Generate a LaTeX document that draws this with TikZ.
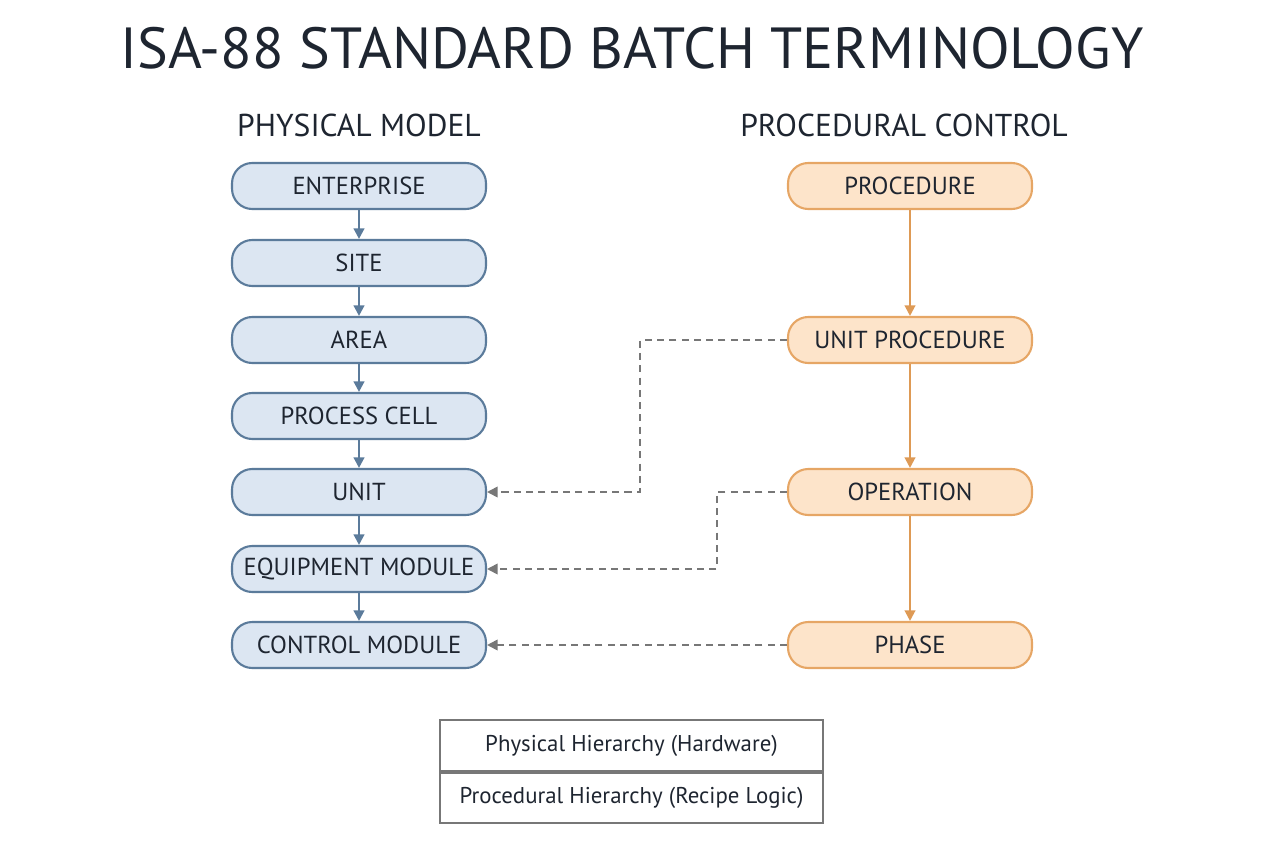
\documentclass[tikz,border=0pt]{standalone}
\usepackage{fontspec}
\setmainfont{PT Sans}
\usetikzlibrary{arrows.meta}
\definecolor{bfill}{HTML}{DCE6F2}
\definecolor{bline}{HTML}{5B7B9B}
\definecolor{ofill}{HTML}{FDE4CA}
\definecolor{oline}{HTML}{E6A665}
\definecolor{oarr}{HTML}{DE9A55}
\definecolor{dgray}{HTML}{777777}
\definecolor{txt}{HTML}{1E2530}
\begin{document}
\begin{tikzpicture}[x=0.02cm,y=-0.02cm,
 pbox/.style={rounded corners=11.5pt,draw=bline,line width=1.2pt,fill=bfill,minimum width=5.08cm,minimum height=0.92cm,font=\fontsize{14}{16}\selectfont,text=txt,inner sep=0pt},
 rbox/.style={rounded corners=11.5pt,draw=oline,line width=1.2pt,fill=ofill,minimum width=4.88cm,minimum height=0.92cm,font=\fontsize{14}{16}\selectfont,text=txt,inner sep=0pt},
 parr/.style={draw=bline,line width=1.3pt,-{Triangle[length=6pt,width=6pt]}},
 oarrow/.style={draw=oarr,line width=1.2pt,-{Triangle[length=6pt,width=6pt]}},
 darr/.style={draw=dgray,line width=1pt,dash pattern=on 4pt off 3pt,-{Triangle[length=6pt,width=6pt]}},
 hdr/.style={font=\fontsize{18}{20}\selectfont,text=txt},
 leg/.style={font=\fontsize{13}{15}\selectfont,text=txt}]
\useasboundingbox (0,0) rectangle (1264,848);
\node[font=\fontsize{33}{38}\selectfont,text=txt] (title) at (632,48) {ISA-88 STANDARD BATCH TERMINOLOGY};
\node[hdr] (hp) at (359,125) {PHYSICAL MODEL};
\node[hdr] (hc) at (904,125) {PROCEDURAL CONTROL};
\node[pbox] (ent) at (359,186) {ENTERPRISE};
\node[pbox] (site) at (359,263) {SITE};
\node[pbox] (area) at (359,340) {AREA};
\node[pbox] (pc) at (359,416) {PROCESS CELL};
\node[pbox] (unit) at (359,492) {UNIT};
\node[pbox] (em) at (359,569) {EQUIPMENT MODULE};
\node[pbox] (cm) at (359,645) {CONTROL MODULE};
\node[rbox] (proc) at (910,186) {PROCEDURE};
\node[rbox] (up) at (910,340) {UNIT PROCEDURE};
\node[rbox] (op) at (910,492) {OPERATION};
\node[rbox] (ph) at (910,645) {PHASE};
\draw[parr] (ent) -- (site);
\draw[parr] (site) -- (area);
\draw[parr] (area) -- (pc);
\draw[parr] (pc) -- (unit);
\draw[parr] (unit) -- (em);
\draw[parr] (em) -- (cm);
\draw[oarrow] (proc) -- (up);
\draw[oarrow] (up) -- (op);
\draw[oarrow] (op) -- (ph);
\draw[darr] (up.west) -| (640,492) -- (unit.east);
\draw[darr] (op.west) -| (717,569) -- (em.east);
\draw[darr] (ph.west) -- (cm.east);
\node[draw=dgray,line width=1pt,minimum width=7.66cm,minimum height=1.02cm,leg,inner sep=0pt] (l1) at (631.5,745.5) {Physical Hierarchy (Hardware)};
\node[draw=dgray,line width=1pt,minimum width=7.66cm,minimum height=1.0cm,leg,inner sep=0pt,anchor=north] (l2) at (l1.south) {Procedural Hierarchy (Recipe Logic)};
\end{tikzpicture}
\end{document}
